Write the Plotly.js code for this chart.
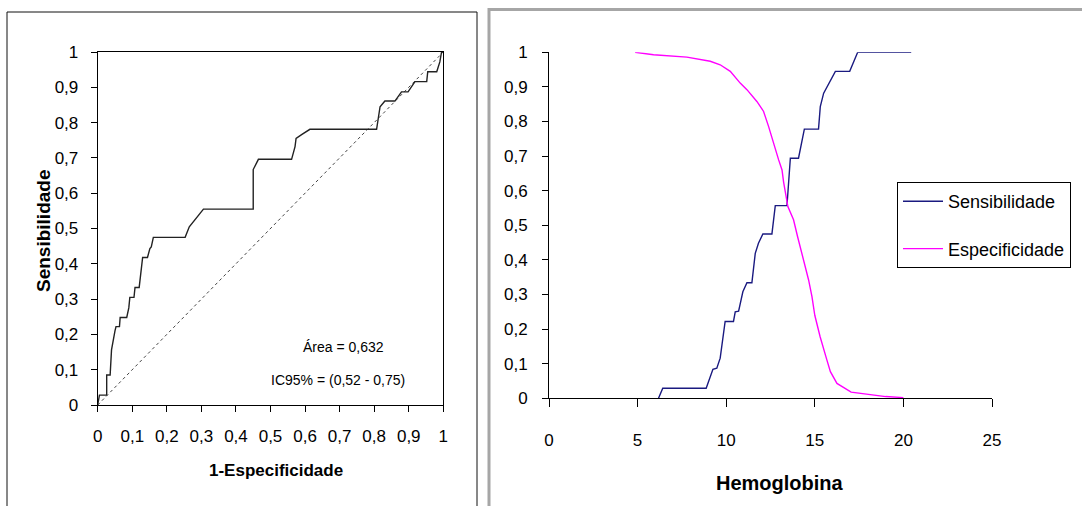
<!DOCTYPE html>
<html>
<head>
<meta charset="utf-8">
<script src="https://cdn.plot.ly/plotly-3.0.1.min.js"></script>
<style>
html,body{margin:0;padding:0;background:#fff;}
#chart{width:1082px;height:506px;}
</style>
</head>
<body>
<div id="chart"></div>
<script>
// ---- Left panel: ROC curve ----
const rocFPR = [0,0.005,0.026,0.026,0.036,0.04,0.05,0.053,0.063,0.065,0.084,0.09,0.093,0.105,0.108,0.12,0.13,0.144,0.151,0.155,0.161,0.253,0.265,0.306,0.45,0.45,0.465,0.561,0.571,0.574,0.59,0.614,0.807,0.812,0.817,0.831,0.86,0.879,0.898,0.918,0.952,0.955,0.981,0.99,0.995,1];
const rocSens = [0,0.028,0.028,0.085,0.085,0.156,0.21,0.222,0.222,0.248,0.248,0.275,0.305,0.305,0.333,0.333,0.418,0.418,0.443,0.448,0.475,0.475,0.505,0.555,0.555,0.667,0.696,0.696,0.732,0.755,0.766,0.781,0.781,0.82,0.845,0.861,0.861,0.887,0.887,0.916,0.916,0.944,0.944,0.972,1,1];
const refLineX = [0,1];
const refLineY = [0,1];
const unitTicks = [0,0.1,0.2,0.3,0.4,0.5,0.6,0.7,0.8,0.9,1];
const unitTickText = ["0","0,1","0,2","0,3","0,4","0,5","0,6","0,7","0,8","0,9","1"];
const areaText = "Área = 0,632";
const ciText = "IC95% = (0,52 - 0,75)";

// ---- Right panel: sensitivity / specificity vs haemoglobin ----
const sensHb = [6.18,6.42,8.87,9.25,9.47,9.66,9.94,10.41,10.51,10.7,10.94,11.17,11.45,11.64,11.82,12.07,12.58,12.77,13.43,13.62,14.08,14.41,15.21,15.31,15.5,15.84,16.16,16.97,17.42,20.44];
const sensVal = [0,0.029,0.029,0.084,0.087,0.116,0.222,0.222,0.25,0.252,0.308,0.334,0.334,0.419,0.448,0.475,0.475,0.557,0.557,0.694,0.694,0.778,0.778,0.843,0.882,0.916,0.945,0.945,1,1];
const specHb = [4.86,5.9,7.78,9.1,9.66,10.23,10.79,11.17,11.73,12.11,12.39,12.67,12.96,13.15,13.24,13.48,13.8,14.03,14.18,14.46,14.65,14.84,15.0,15.3,15.5,15.68,15.88,16.25,17.05,18.1,19.0,20.0];
const specVal = [1,0.993,0.986,0.974,0.964,0.945,0.911,0.892,0.858,0.829,0.786,0.735,0.689,0.66,0.625,0.554,0.516,0.467,0.438,0.381,0.342,0.294,0.24,0.178,0.14,0.111,0.077,0.043,0.018,0.01,0.005,0.002];
const hbTicks = [0,5,10,15,20,25];

const W = 1082, H = 506;
const px = v => v / W;
const py = v => (H - v) / H;

const sans = "Liberation Sans, Arial, sans-serif";

const traces = [
  {x: refLineX, y: refLineY, xaxis: 'x', yaxis: 'y', mode: 'lines', showlegend: false,
   line: {color: '#444', width: 1, dash: 'dot'}, hoverinfo: 'skip'},
  {x: rocFPR, y: rocSens, xaxis: 'x', yaxis: 'y', mode: 'lines', showlegend: false,
   line: {color: '#222', width: 1.4}},
  {x: sensHb, y: sensVal, xaxis: 'x2', yaxis: 'y2', mode: 'lines', name: 'Sensibilidade',
   legendgroup: 'a', line: {color: '#1a1a80', width: 1.4}},
  {x: specHb, y: specVal, xaxis: 'x2', yaxis: 'y2', mode: 'lines', name: 'Especificidade',
   legendgroup: 'b', line: {color: '#ff00ff', width: 1.4}}
];

const tickFont = {family: sans, size: 17, color: '#000'};

const layout = {
  width: W, height: H,
  margin: {l: 0, r: 0, t: 0, b: 0},
  paper_bgcolor: '#fff', plot_bgcolor: '#fff',
  showlegend: true,
  legend: {x: px(897), y: py(182), xanchor: 'left', yanchor: 'top',
           bordercolor: '#000', borderwidth: 1, bgcolor: '#fff',
           font: {family: sans, size: 18, color: '#000'},
           tracegroupgap: 21, traceorder: 'grouped', itemwidth: 40},
  xaxis: {domain: [px(97.7), px(443.3)], range: [0, 1], anchor: 'y',
          tickvals: unitTicks, ticktext: unitTickText, tickfont: tickFont,
          showgrid: false, zeroline: false, showline: true, mirror: true,
          linecolor: '#000', linewidth: 1, ticks: 'outside', ticklen: 6, tickcolor: '#000',
          ticklabelstandoff: 10, fixedrange: true},
  yaxis: {domain: [py(405), py(52)], range: [0, 1], anchor: 'x',
          tickvals: unitTicks, ticktext: unitTickText, tickfont: tickFont,
          showgrid: false, zeroline: false, showline: true, mirror: true,
          linecolor: '#000', linewidth: 1, ticks: 'outside', ticklen: 6, tickcolor: '#000',
          ticklabelstandoff: 9, fixedrange: true},
  xaxis2: {domain: [px(549), px(992)], range: [0, 25], anchor: 'y2',
          tickvals: hbTicks, tickfont: tickFont,
          showgrid: false, zeroline: false, showline: true,
          linecolor: '#000', linewidth: 1, ticks: 'outside', ticklen: 8, tickcolor: '#000',
          ticklabelstandoff: 18, fixedrange: true},
  yaxis2: {domain: [py(398.3), py(52.3)], range: [0, 1], anchor: 'x2',
          tickvals: unitTicks, ticktext: unitTickText, tickfont: tickFont,
          showgrid: false, zeroline: false, showline: true,
          linecolor: '#000', linewidth: 1, ticks: 'outside', ticklen: 6, tickcolor: '#000',
          ticklabelstandoff: 11, fixedrange: true},
  shapes: [
    {type: 'rect', xref: 'paper', yref: 'paper', x0: px(7), x1: px(477), y0: py(540), y1: py(12),
     line: {color: '#111', width: 1}},
    {type: 'rect', xref: 'paper', yref: 'paper', x0: px(489), x1: px(1100), y0: py(540), y1: py(9.5),
     line: {color: '#a6a6a6', width: 3}}
  ],
  annotations: [
    {xref: 'paper', yref: 'paper', x: px(343), y: py(347), xanchor: 'center', yanchor: 'middle',
     text: areaText, showarrow: false, font: {family: sans, size: 14, color: '#000'}},
    {xref: 'paper', yref: 'paper', x: px(338), y: py(380), xanchor: 'center', yanchor: 'middle',
     text: ciText, showarrow: false, font: {family: sans, size: 14, color: '#000'}},
    {xref: 'paper', yref: 'paper', x: px(276), y: py(470), xanchor: 'center', yanchor: 'middle',
     text: '1-Especificidade', showarrow: false,
     font: {family: sans, size: 17, color: '#000', weight: 'bold'}},
    {xref: 'paper', yref: 'paper', x: px(43), y: py(231), xanchor: 'center', yanchor: 'middle',
     text: 'Sensibilidade', showarrow: false, textangle: -90,
     font: {family: sans, size: 19, color: '#000', weight: 'bold'}},
    {xref: 'paper', yref: 'paper', x: px(780), y: py(483), xanchor: 'center', yanchor: 'middle',
     text: 'Hemoglobina', showarrow: false,
     font: {family: sans, size: 20, color: '#000', weight: 'bold'}}
  ]
};

Plotly.newPlot('chart', traces, layout, {displayModeBar: false, staticPlot: true});
</script>
</body>
</html>
